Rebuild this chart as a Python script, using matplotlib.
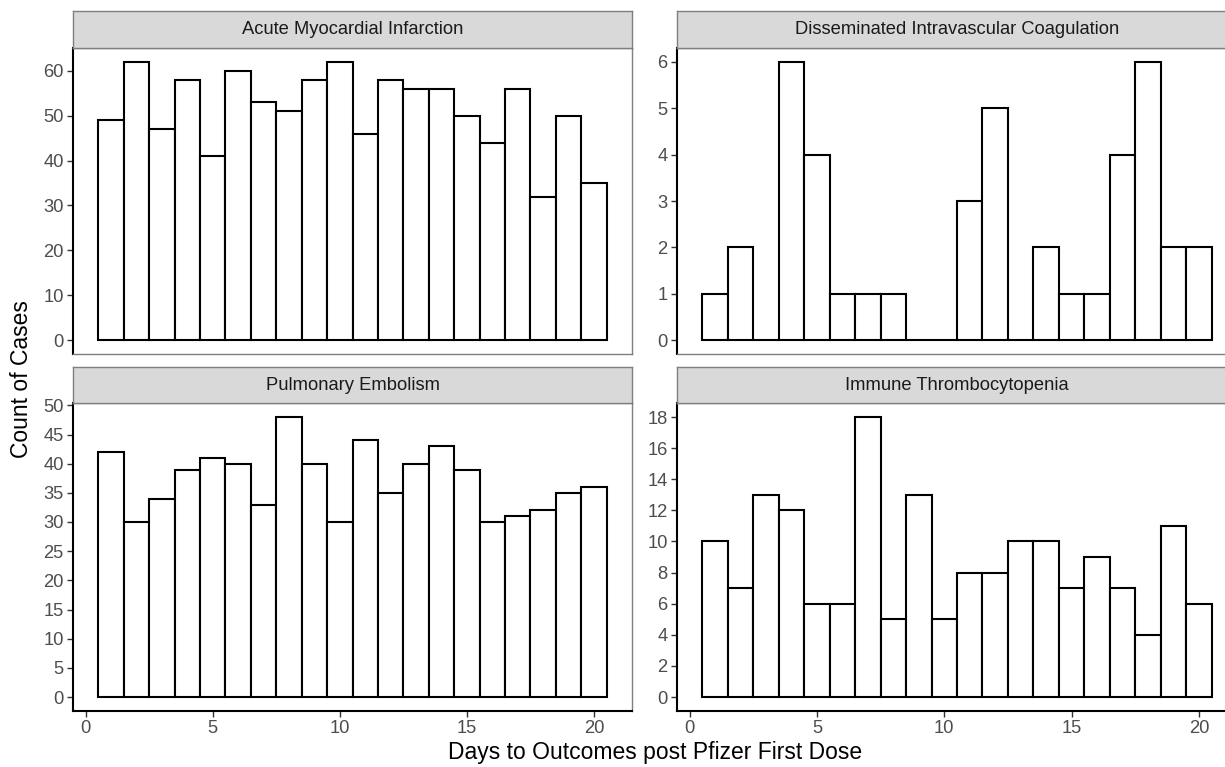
import matplotlib
matplotlib.use("Agg")
import matplotlib.pyplot as plt
import numpy as np

plt.rcParams['font.family'] = ['Liberation Sans', 'DejaVu Sans']

days = list(range(1, 21))
titles = ["Acute Myocardial Infarction", "Disseminated Intravascular Coagulation",
          "Pulmonary Embolism", "Immune Thrombocytopenia"]
ami = [49, 62, 47, 58, 41, 60, 53, 51, 58, 62, 46, 58, 56, 56, 50, 44, 56, 32, 50, 35]
dic = [1, 2, 0, 6, 4, 1, 1, 1, 0, 0, 3, 5, 0, 2, 1, 1, 4, 6, 2, 2]
pe = [42, 30, 34, 39, 41, 40, 33, 48, 40, 30, 44, 35, 40, 43, 39, 30, 31, 32, 35, 36]
itp = [10, 7, 13, 12, 6, 6, 18, 5, 13, 5, 8, 8, 10, 10, 7, 9, 7, 4, 11, 6]
series = [ami, dic, pe, itp]
ysteps = [10, 1, 5, 2]
xticks = [0, 5, 10, 15, 20]

W, H = 1225, 767
fig = plt.figure(figsize=(W / 100, H / 100), dpi=100)

cols = [(73, 632), (677, 1237)]
rows = [((11, 48), (48, 354)), ((367, 403), (403, 711))]

def frac(x0, x1, y0, y1):
    return [x0 / W, 1 - y1 / H, (x1 - x0) / W, (y1 - y0) / H]

TICK = 13.2
tick_color = '#4D4D4D'
for i in range(4):
    r, c = divmod(i, 2)
    (sy0, sy1), (py0, py1) = rows[r]
    x0, x1 = cols[c]
    ax = fig.add_axes(frac(x0, x1, py0, py1))
    vals = series[i]
    ax.bar(days, vals, width=1, facecolor='white', edgecolor='black', linewidth=1.5)
    m = max(vals)
    ax.set_ylim(-0.05 * m, 1.05 * m)
    ax.set_xlim(-0.5, 21.5)
    ax.set_yticks(np.arange(0, 1.05 * m + 1e-9, ysteps[i]))
    ax.set_xticks(xticks)
    ax.tick_params(axis='both', labelsize=TICK, labelcolor=tick_color, color='#333333',
                   length=4.3, width=1, pad=2.5)
    for s in ['top', 'right']:
        ax.spines[s].set_color('#7F7F7F')
        ax.spines[s].set_linewidth(1)
    ax.spines['left'].set_color('black')
    ax.spines['left'].set_linewidth(1.5)
    if r == 0:
        ax.tick_params(axis='x', bottom=False, labelbottom=False)
        ax.spines['bottom'].set_color('#7F7F7F')
        ax.spines['bottom'].set_linewidth(1)
    else:
        ax.spines['bottom'].set_color('black')
        ax.spines['bottom'].set_linewidth(1.5)

    sax = fig.add_axes(frac(x0, x1, sy0, sy1))
    sax.set_facecolor('#D9D9D9')
    sax.set_xticks([])
    sax.set_yticks([])
    for s in sax.spines.values():
        s.set_color('#7F7F7F')
        s.set_linewidth(1)
    sax.text(0.5, 0.5, titles[i], transform=sax.transAxes, ha='center', va='center',
             fontsize=TICK, color='#1A1A1A')

fig.text(22 / W, 1 - 379 / H, "Count of Cases", rotation=90, ha='center', va='center',
         fontsize=16.5, color='black')
fig.text(655 / W, 1 - 752 / H, "Days to Outcomes post Pfizer First Dose", ha='center',
         va='center', fontsize=16.5, color='black')

fig.savefig("out.png", dpi=100)
